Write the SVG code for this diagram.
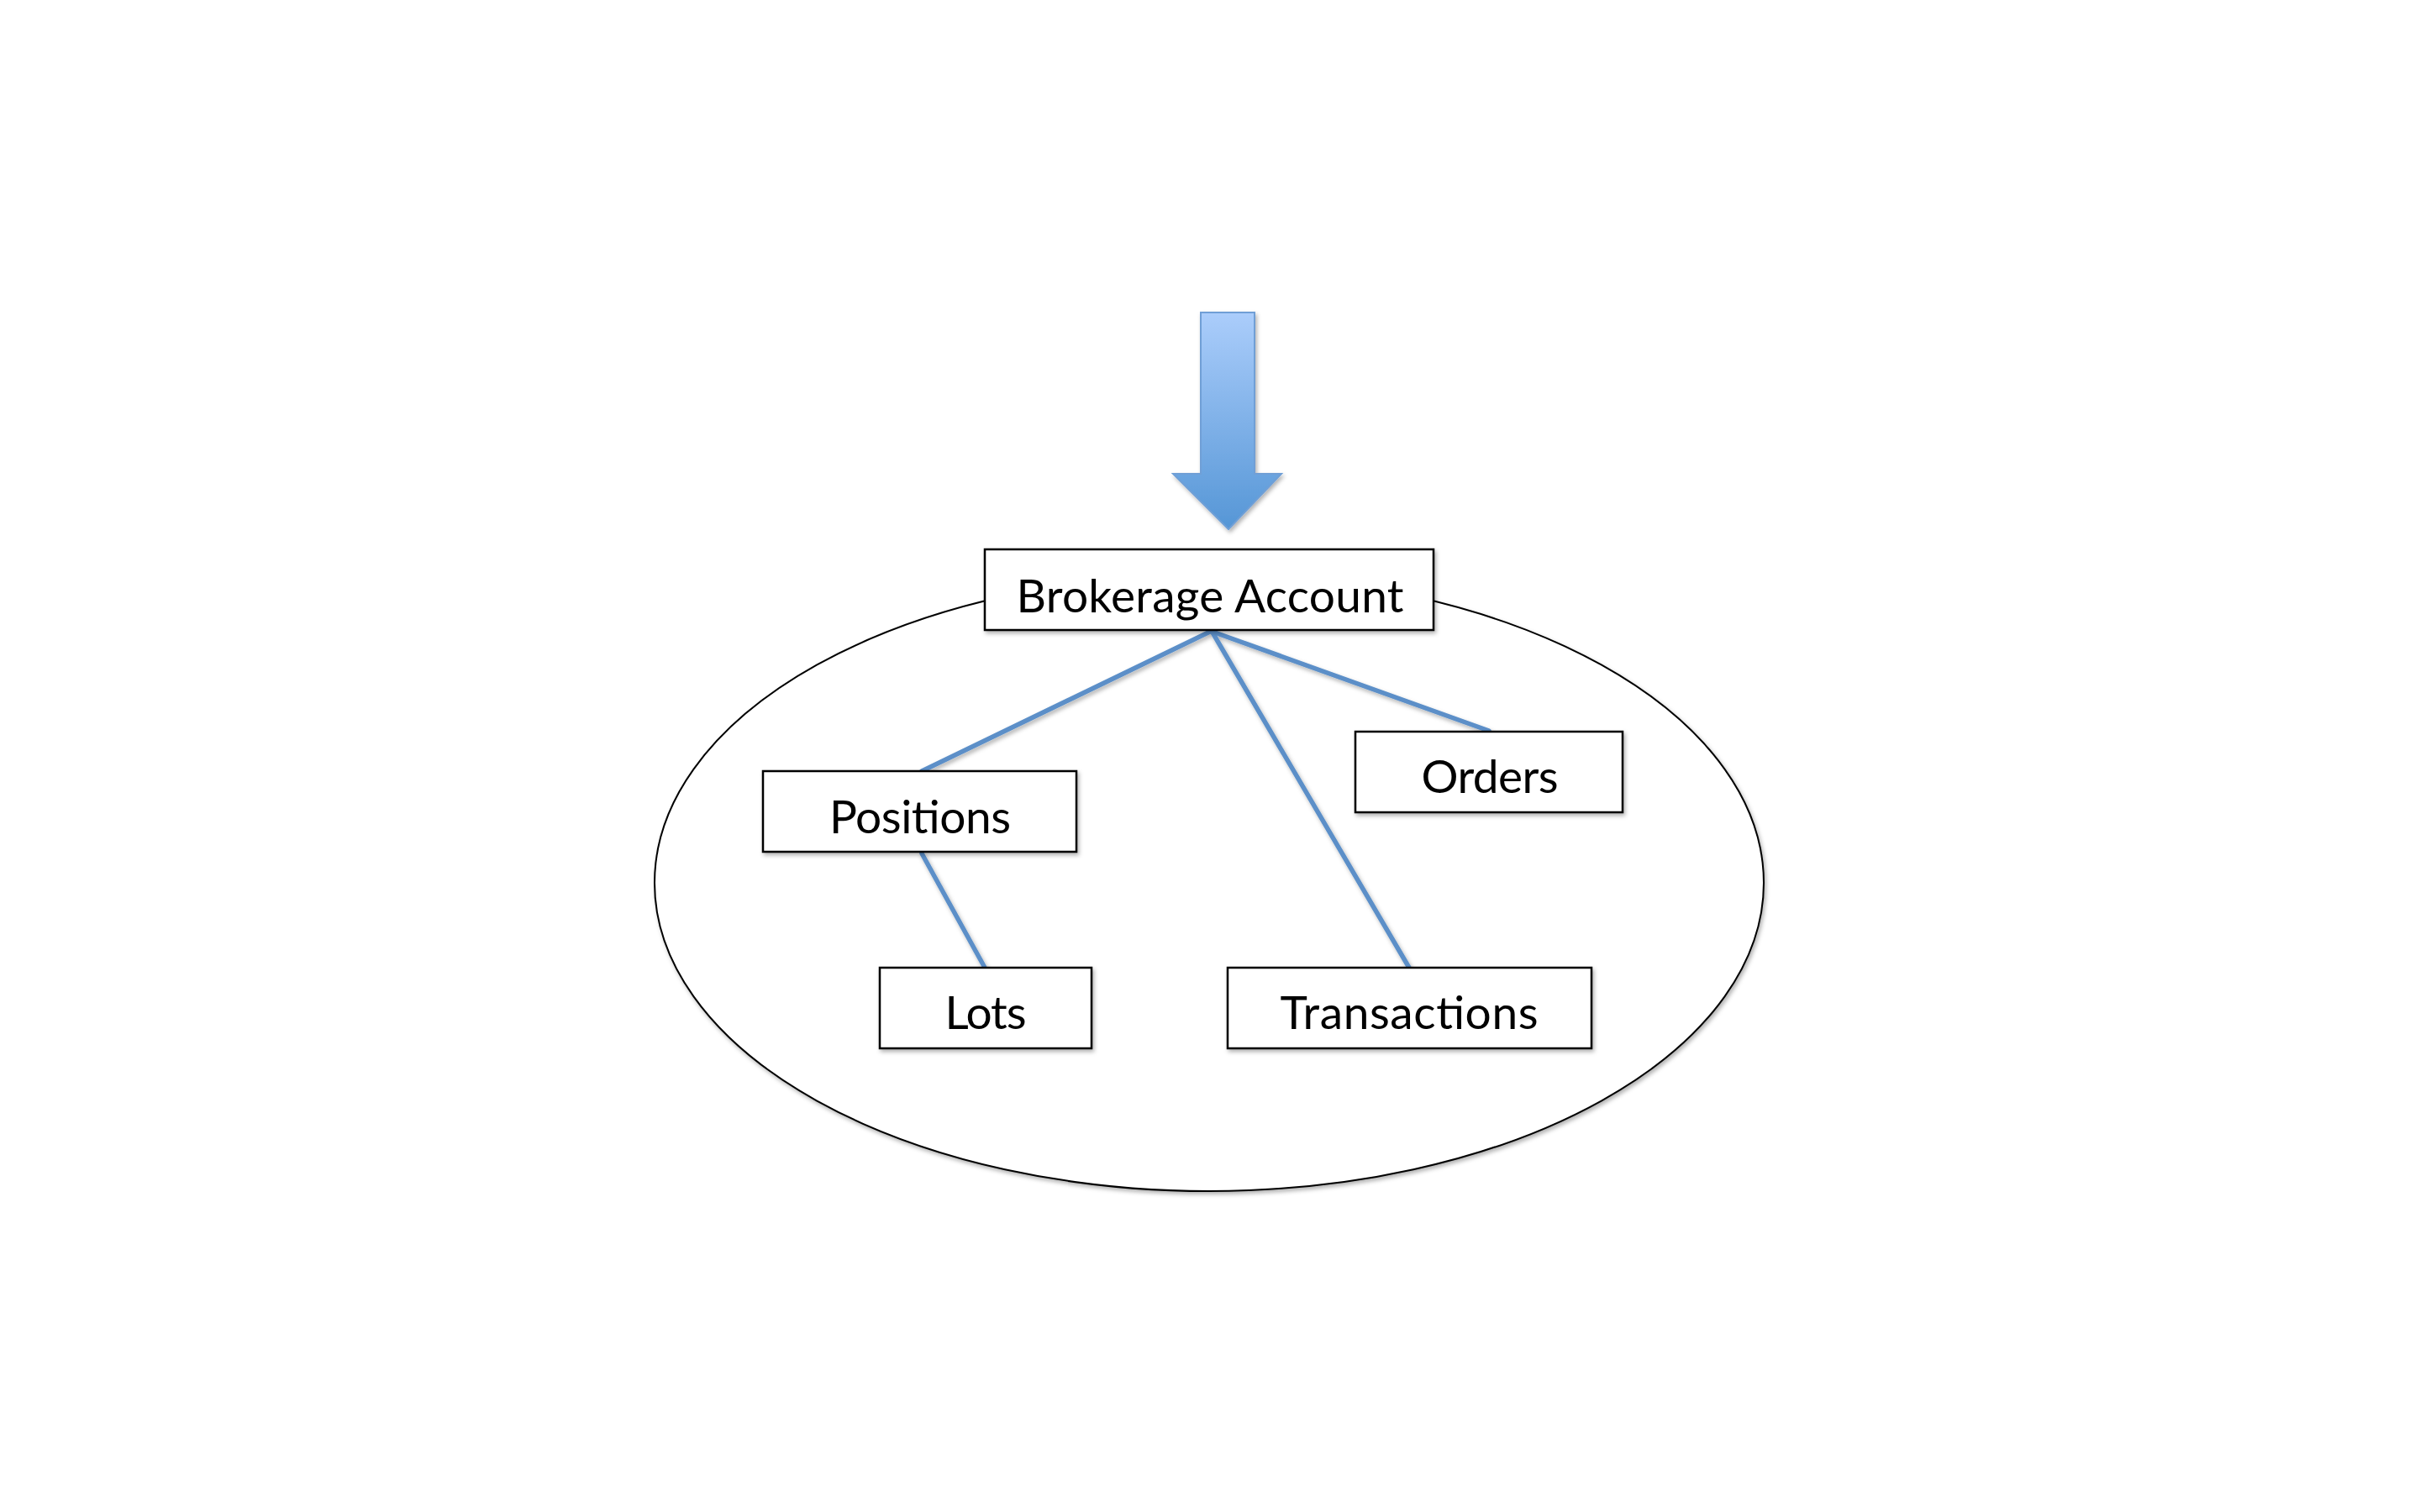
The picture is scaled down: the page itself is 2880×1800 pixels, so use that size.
<svg xmlns="http://www.w3.org/2000/svg" width="2880" height="1800" viewBox="0 0 2880 1800">
<style>
.box{fill:#ffffff;stroke:#000000;stroke-width:2.5}
.lbl{font-family:Lato,"Open Sans","Liberation Sans",sans-serif;font-size:55px;fill:#000000;text-anchor:middle}
.conn{stroke:#5b8fc8;stroke-width:5.5;fill:none;stroke-linecap:round}
</style>
<defs>
<linearGradient id="arrowGrad" x1="0" y1="0" x2="0" y2="1">
<stop offset="0" stop-color="#abcdfb"/>
<stop offset="1" stop-color="#5596d6"/>
</linearGradient>
<filter id="sh" x="-10%" y="-10%" width="130%" height="140%">
<feDropShadow dx="2" dy="3" stdDeviation="2.5" flood-color="#000000" flood-opacity="0.3"/>
</filter>
</defs>
<rect width="2880" height="1800" fill="#ffffff"/>
<g id="scope">
<ellipse cx="1439" cy="1051" rx="660" ry="367" fill="#ffffff" stroke="#000000" stroke-width="2" filter="url(#sh)"/>
</g>
<g id="input-arrow">
<path d="M1429,372 L1493,372 L1493,564 L1525,564 L1462,630 L1396,564 L1429,564 Z" fill="url(#arrowGrad)" stroke="#6f9fd6" stroke-width="2" filter="url(#sh)"/>
</g>
<g id="connectors" filter="url(#sh)">
<line class="conn" x1="1440" y1="752" x2="1097" y2="918"/>
<line class="conn" x1="1443" y1="752" x2="1772" y2="870"/>
<line class="conn" x1="1443" y1="753" x2="1677" y2="1152"/>
<line class="conn" x1="1097" y1="1016" x2="1172" y2="1152"/>
</g>
<g id="brokerage-account">
<rect class="box" x="1172" y="654" width="534" height="96" filter="url(#sh)"/>
<text class="lbl" x="1440" y="729" textLength="461">Brokerage Account</text>
</g>
<g id="positions">
<rect class="box" x="908" y="918" width="373" height="96" filter="url(#sh)"/>
<text class="lbl" x="1095" y="992" textLength="216">Positions</text>
</g>
<g id="orders">
<rect class="box" x="1613" y="871" width="318" height="96" filter="url(#sh)"/>
<text class="lbl" x="1773" y="944" textLength="163">Orders</text>
</g>
<g id="lots">
<rect class="box" x="1047" y="1152" width="252" height="96" filter="url(#sh)"/>
<text class="lbl" x="1173" y="1225" textLength="97">Lots</text>
</g>
<g id="transactions">
<rect class="box" x="1461" y="1152" width="433" height="96" filter="url(#sh)"/>
<text class="lbl" x="1677" y="1225" textLength="307">Transactions</text>
</g>
</svg>
